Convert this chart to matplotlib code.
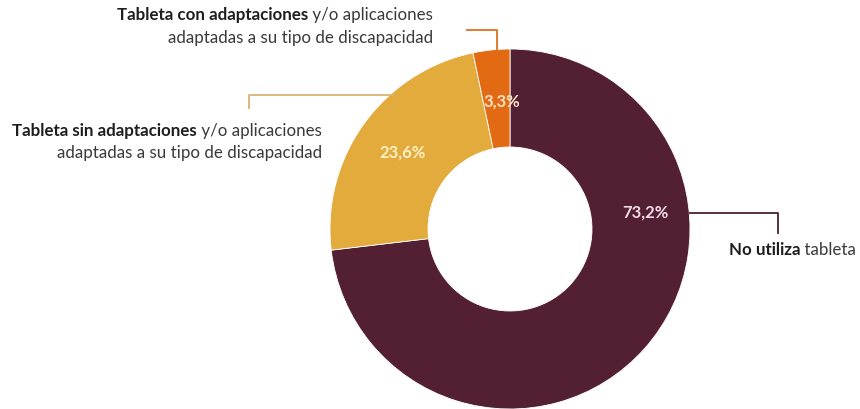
import matplotlib
matplotlib.use("Agg")
import matplotlib.pyplot as plt

categories = ["No utiliza tableta",
              "Tableta sin adaptaciones y/o aplicaciones adaptadas a su tipo de discapacidad",
              "Tableta con adaptaciones y/o aplicaciones adaptadas a su tipo de discapacidad"]
values = [73.2, 23.6, 3.3]
pct_labels = ["73,2%", "23,6%", "3,3%"]
label_bold = ["No utiliza", "Tableta sin adaptaciones", "Tableta con adaptaciones"]
label_rest = [" tableta", " y/o aplicaciones", " y/o aplicaciones"]
label_line2 = ["", "adaptadas a su tipo de discapacidad", "adaptadas a su tipo de discapacidad"]

colors = ["#521F33", "#E3AA3C", "#E26A12"]
line_colors = ["#4A2030", "#D8B474", "#E07020"]
pct_colors = ["#F2DCEA", "#FFF2C8", "#FDE2C4"]

W, H = 860, 409
fig = plt.figure(figsize=(W / 100, H / 100), dpi=100)
ax = fig.add_axes([0, 0, 1, 1])
plt.rcParams['font.family'] = ['Lato', 'DejaVu Sans']

def Y(y):
    return H - y

cx, cy, R, RI = 510, 229, 180, 82
wedges, _ = ax.pie(values, colors=colors, startangle=90, counterclock=False,
                   center=(cx, Y(cy)), radius=R,
                   wedgeprops=dict(width=R - RI, linewidth=0.6, edgecolor="white"),
                   frame=True)
ax.set_xlim(0, W)
ax.set_ylim(0, H)
ax.set_axis_off()

# percentage labels
pct_pos = [(645, 213), (403, 153), (502, 102)]
for (px, py), lab, c in zip(pct_pos, pct_labels, pct_colors):
    ax.text(px, Y(py), lab, ha="center", va="center", fontsize=12,
            fontweight="bold", color=c)

# leader lines
ax.plot([690, 778, 778], [Y(213), Y(213), Y(233)], color=line_colors[0], lw=1.3)
ax.plot([393, 249, 249], [Y(95), Y(95), Y(108)], color=line_colors[1], lw=1.3)
ax.plot([467, 497, 497], [Y(30), Y(30), Y(50)], color=line_colors[2], lw=1.3)

fig.canvas.draw()
renderer = fig.canvas.get_renderer()
txtcol = "#3A3A3A"
fs = 12.2

def two_part_right(xr, y, bold, rest):
    t = ax.text(xr, Y(y), rest, ha="right", va="center", fontsize=fs, color=txtcol)
    bb = t.get_window_extent(renderer)
    ax.text(bb.x0, Y(y), bold, ha="right", va="center", fontsize=fs,
            fontweight="bold", color="#1E1E1E")

def two_part_left(xl, y, bold, rest):
    t = ax.text(xl, Y(y), bold, ha="left", va="center", fontsize=fs,
                fontweight="bold", color="#1E1E1E")
    bb = t.get_window_extent(renderer)
    ax.text(bb.x1, Y(y), rest, ha="left", va="center", fontsize=fs, color=txtcol)

# Tableta con adaptaciones
two_part_right(433, 15, label_bold[2], label_rest[2])
ax.text(433, Y(38), label_line2[2], ha="right", va="center", fontsize=fs, color=txtcol)
# Tableta sin adaptaciones
two_part_right(322, 131, label_bold[1], label_rest[1])
ax.text(322, Y(153), label_line2[1], ha="right", va="center", fontsize=fs, color=txtcol)
# No utiliza
two_part_left(729, 250, label_bold[0], label_rest[0])

fig.savefig("out.png", dpi=100)
